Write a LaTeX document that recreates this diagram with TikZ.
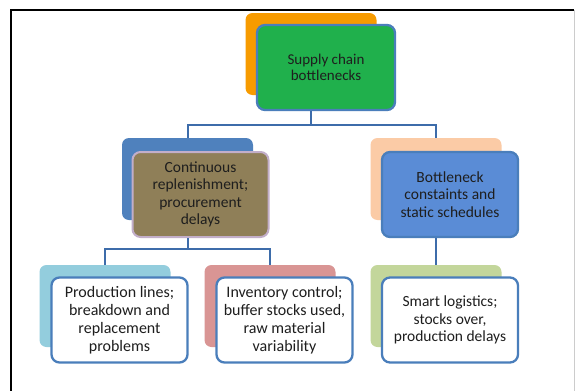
\documentclass[tikz,border=0pt]{standalone}
\usepackage{fontspec}
\setmainfont{Carlito}
\definecolor{cOrange}{HTML}{F79B00}
\definecolor{cGreen}{HTML}{20B04C}
\definecolor{cEdge}{HTML}{4A7EBB}
\definecolor{cLink}{HTML}{3D6CAA}
\definecolor{cOlive}{HTML}{8F7F58}
\definecolor{cOliveEdge}{HTML}{C2AEC9}
\definecolor{cBlueBack}{HTML}{4F81BD}
\definecolor{cPeach}{HTML}{FBCBA6}
\definecolor{cBlueFront}{HTML}{5A8CD6}
\definecolor{cCyan}{HTML}{93CDDD}
\definecolor{cPink}{HTML}{D99594}
\definecolor{cLightGreen}{HTML}{C3D69B}
\definecolor{cText}{HTML}{1E1E1E}
\begin{document}
\begin{tikzpicture}[x=1pt,y=-1pt,
  backbox/.style={rounded corners=7pt, draw=none, minimum width=131pt, minimum height=82pt, inner sep=0pt},
  frontbox/.style={rounded corners=8pt, draw=cEdge, line width=2.3pt, minimum width=136pt, minimum height=85pt, inner sep=1pt, align=center, font=\fontsize{15.5}{17.5}\selectfont, text=cText},
  link/.style={draw=cLink, line width=2pt}]
\useasboundingbox (0,0) rectangle (579,391);
\fill[white] (0,0) rectangle (579,391);
% frame
\draw[black, line width=2pt] (11,391) -- (11,10) -- (574,10);
\draw[gray!40, line width=0.8pt] (574,10) -- (574,391);
% top
\node[backbox, fill=cOrange] (topb) at (311,54) {};
\node[frontbox, fill=cGreen, minimum width=138pt, font=\fontsize{15}{16.5}\selectfont] (top) at (326,67.5) {Supply chain\\bottlenecks};
% middle
\node[backbox, fill=cBlueBack] (mlb) at (187.5,179) {};
\node[frontbox, fill=cOlive, draw=cOliveEdge, line width=2pt] (ml) at (200.5,194.5) {Continuous\\replenishment;\\procurement\\delays};
\node[backbox, fill=cPeach] (mrb) at (436,179) {};
\node[frontbox, fill=cBlueFront] (mr) at (450,194.5) {Bottleneck\\constaints and\\static schedules};
% bottom
\node[backbox, fill=cCyan] (b1b) at (105,306) {};
\node[frontbox, fill=white, font=\fontsize{16}{18}\selectfont] (b1) at (119.5,320) {Production lines;\\breakdown and\\replacement\\problems};
\node[backbox, fill=cPink] (b2b) at (270,306) {};
\node[frontbox, fill=white, font=\fontsize{16}{18}\selectfont] (b2) at (284.5,320) {Inventory control;\\buffer stocks used,\\raw material\\variability};
\node[backbox, fill=cLightGreen] (b3b) at (436,306) {};
\node[frontbox, fill=white] (b3) at (450,320) {Smart logistics;\\stocks over,\\production delays};
% connectors
\draw[link] (topb |- top.south) -- ++(0,14) coordinate (j1);
\draw[link] (mlb.north) |- (j1) -| (mrb.north);
\draw[link] (mlb |- ml.south) -- ++(0,11) coordinate (j2);
\draw[link] (b1b.north) |- (j2) -| (b2b.north);
\draw[link] (mrb |- mr.south) -- (b3b.north);
\end{tikzpicture}
\end{document}
